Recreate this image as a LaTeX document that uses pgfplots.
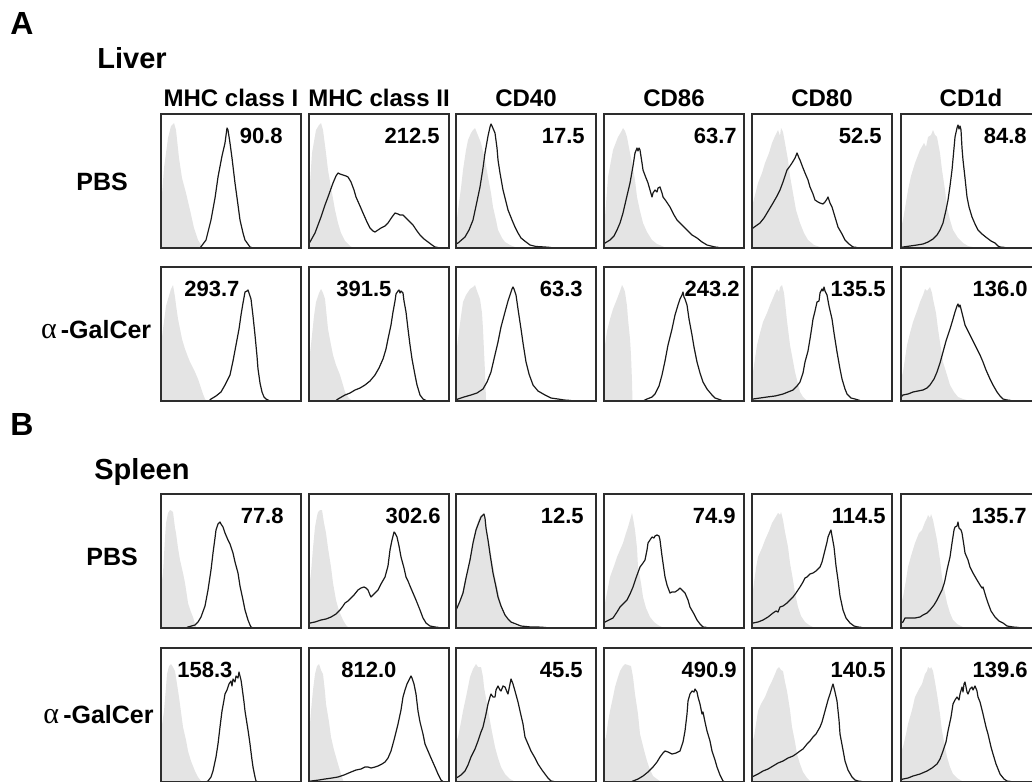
\documentclass[border=0pt]{standalone}
\usepackage{fontspec}
\setmainfont{Liberation Sans}
\newfontfamily\greekfont{Liberation Serif}
\usepackage{pgfplots}
\pgfplotsset{compat=1.18}

\definecolor{ctrlgrey}{RGB}{228,228,228}
\definecolor{boxline}{RGB}{45,45,45}

\newcommand{\numfont}{\fontsize{11}{13}\selectfont\bfseries}
\newcommand{\numR}[2]{\node[anchor=east,inner sep=0pt,font=\numfont] at (axis cs:#1,112) {#2};}
\newcommand{\numL}[2]{\node[anchor=west,inner sep=0pt,font=\numfont] at (axis cs:#1,112) {#2};}
\newcommand{\agc}{{\greekfont\mdseries\fontsize{15}{17}\selectfont α}\,-GalCer}

\pgfplotsset{
  panel/.style={
    width=70pt, height=67pt, scale only axis,
    xmin=0, xmax=140, ymin=0, ymax=134,
    xtick=\empty, ytick=\empty,
    axis on top, clip=false, anchor=north west,
    axis line style={draw=boxline, line width=0.85pt},
  },
  ctrl/.style={fill=ctrlgrey, draw=none},
  stain/.style={black!90, line width=0.6pt, mark=none, line join=round},
}

\begin{document}
\begin{tikzpicture}
\useasboundingbox (0pt,0pt) rectangle (516pt,-390.5pt);
\clip (0pt,0pt) rectangle (516pt,-390.5pt);

% labels
\node[anchor=base west,inner sep=0pt,font=\fontsize{16}{18}\selectfont\bfseries] at (5pt,-17.5pt) {A};
\node[anchor=base west,inner sep=0pt,font=\fontsize{14.5}{17}\selectfont\bfseries] at (48.5pt,-34.2pt) {Liver};
\node[anchor=base west,inner sep=0pt,font=\fontsize{16}{18}\selectfont\bfseries] at (5pt,-217.5pt) {B};
\node[anchor=base west,inner sep=0pt,font=\fontsize{14.5}{17}\selectfont\bfseries] at (47pt,-239.5pt) {Spleen};

\foreach \x/\t in {115.5/MHC class I, 189.5/MHC class II, 263/CD40, 337/CD86, 411/CD80, 485.5/CD1d}
  \node[anchor=base,inner sep=0pt,font=\fontsize{12}{14}\selectfont\bfseries] at (\x pt,-53pt) {\t};

\node[anchor=base west,inner sep=0pt,font=\fontsize{12.5}{15}\selectfont\bfseries] at (38pt,-95pt) {PBS};
\node[anchor=base east,inner sep=0pt,font=\fontsize{12.5}{15}\selectfont\bfseries] at (75.8pt,-169pt) {\agc};
\node[anchor=base west,inner sep=0pt,font=\fontsize{12.5}{15}\selectfont\bfseries] at (43pt,-282.8pt) {PBS};
\node[anchor=base east,inner sep=0pt,font=\fontsize{12.5}{15}\selectfont\bfseries] at (77pt,-361.5pt) {\agc};

% ---------- Liver, PBS ----------
\begin{axis}[panel, at={(80.5pt,-57pt)}]
\addplot[ctrl] coordinates {(0,40)(3,80)(7,110)(10,122)(13,125)(15,118)(18,90)(21,70)(25,55)(29,38)(33,20)(37,8)(42,0)} \closedcycle;
\addplot[stain] coordinates {(39,0)(45,8)(50,28)(54,50)(57,71)(61,92)(64,105)(66,120)(67,118)(69,105)(71,90)(74,65)(77,43)(79,28)(82,15)(84,8)(89,1)(92,0)};
\numR{122}{90.8}
\end{axis}

\begin{axis}[panel, at={(154.5pt,-57pt)}]
\addplot[ctrl] coordinates {(0,50)(3,95)(7,118)(10,123)(12,125)(14,118)(17,95)(19,78)(23,55)(26,38)(29,25)(32,15)(36,7)(41,2)(45,0)} \closedcycle;
\addplot[stain] coordinates {(0,5)(1,6)(6,15)(12,31)(16,43)(19,51)(24,65)(27,72)(29,75)(31,74)(34,73)(37,72)(39,71)(42,66)(45,58)(47,51)(51,42)(54,35)(58,26)(61,20)(64,17)(66,16)(69,18)(72,20)(76,22)(79,25)(83,31)(86,35)(89,34)(91,33)(94,33)(97,30)(100,27)(104,23)(108,17)(111,13)(115,9)(119,6)(123,3)(126,1)(129,0.5)};
\numR{131}{212.5}
\end{axis}

\begin{axis}[panel, at={(228pt,-57pt)}]
\addplot[ctrl] coordinates {(0,20)(2,38)(5,60)(7,78)(10,98)(12,108)(15,115)(17,118)(19,120)(21,115)(23,110)(25,105)(29,88)(32,71)(35,55)(37,41)(40,28)(42,18)(46,10)(49,6)(54,3)(59,1)(62,0)} \closedcycle;
\addplot[stain] coordinates {(0,4)(2,5)(9,11)(13,18)(17,28)(20,42)(24,61)(27,80)(29,95)(32,112)(34,121)(35,124)(36,122)(39,115)(41,100)(42,88)(44,75)(47,58)(50,46)(52,38)(56,28)(59,21)(62,15)(65,10)(70,6)(74,3)(80,1.5)(89,1)(95,0.5)};
\numR{129}{17.5}
\end{axis}

\begin{axis}[panel, at={(302pt,-57pt)}]
\addplot[ctrl] coordinates {(0,25)(1,31)(4,71)(9,98)(14,111)(17,116)(19,120)(21,117)(23,111)(26,95)(28,85)(31,68)(33,51)(36,37)(39,25)(43,16)(48,8)(53,4)(58,2)(62,0)} \closedcycle;
\addplot[stain] coordinates {(0,4)(1,5)(6,8)(10,12)(13,18)(16,25)(19,35)(22,48)(26,65)(29,82)(31,95)(33,100)(34,97)(35,100)(36,98)(38,85)(39,78)(42,70)(44,65)(46,58)(48,51)(49,55)(51,58)(53,56)(54,60)(56,61)(58,55)(59,51)(62,47)(66,41)(70,33)(73,28)(78,23)(83,18)(88,13)(93,10)(98,6)(103,3)(111,1)(115,0.5)};
\numR{133}{63.7}
\end{axis}

\begin{axis}[panel, at={(376pt,-57pt)}]
\addplot[ctrl] coordinates {(0,40)(1,45)(6,65)(10,75)(13,85)(17,95)(20,105)(23,112)(26,118)(28,112)(29,120)(31,116)(33,105)(36,88)(38,72)(41,55)(44,38)(48,25)(52,15)(56,8)(62,3)(68,1)(72,0)} \closedcycle;
\addplot[stain] coordinates {(0,19)(1,20)(8,25)(12,30)(15,35)(18,40)(21,45)(25,52)(28,58)(31,66)(35,78)(38,82)(40,85)(43,90)(45,95)(47,90)(48,88)(51,80)(53,75)(56,68)(58,61)(61,54)(63,48)(66,46)(68,45)(71,44)(73,46)(75,49)(76,51)(78,45)(80,41)(83,31)(86,21)(90,14)(93,8)(97,4)(101,1)(105,0.5)};
\numR{130}{52.5}
\end{axis}

\begin{axis}[panel, at={(450.5pt,-57pt)}]
\addplot[ctrl] coordinates {(0,20)(2,28)(7,58)(10,72)(14,85)(19,98)(23,105)(25,101)(27,111)(30,113)(32,118)(34,113)(36,111)(39,95)(41,78)(44,58)(46,41)(49,28)(52,18)(57,10)(62,5)(67,2)(72,1)(76,0)} \closedcycle;
\addplot[stain] coordinates {(0,0.5)(2,1)(9,2)(16,3)(22,4)(27,6)(32,9)(36,13)(39,18)(42,25)(45,38)(47,48)(49,62)(51,78)(53,100)(54,111)(56,120)(57,123)(58,119)(59,122)(60,118)(61,100)(62,88)(64,70)(66,51)(68,41)(71,31)(74,24)(77,18)(81,14)(86,10)(90,7)(94,5)(97,2)(99,1)(104,0.5)};
\numR{126}{84.8}
\end{axis}

% ---------- Liver, alpha-GalCer ----------
\begin{axis}[panel, at={(80.5pt,-133.5pt)}]
\addplot[ctrl] coordinates {(0,55)(2,72)(5,95)(7,102)(10,112)(12,116)(14,104)(15,96)(17,82)(19,72)(21,62)(24,52)(27,44)(29,39)(32,33)(34,29)(37,22)(39,16)(42,7)(44,2)(46,0)} \closedcycle;
\addplot[stain] coordinates {(48,0)(50,2)(55,5)(60,9)(64,16)(67,22)(69,26)(72,40)(75,56)(78,72)(80,86)(82,98)(84,109)(86,110)(87,111)(88,108)(90,102)(92,85)(94,66)(96,45)(97,32)(99,18)(101,9)(103,4)(105,2)(108,0.5)};
\numL{23}{293.7}
\end{axis}

\begin{axis}[panel, at={(154.5pt,-133.5pt)}]
\addplot[ctrl] coordinates {(0,40)(2,56)(5,85)(7,99)(10,108)(12,112)(14,108)(16,102)(18,82)(19,72)(22,56)(24,46)(27,36)(31,26)(34,16)(36,9)(39,4)(41,2)(44,0)} \closedcycle;
\addplot[stain] coordinates {(27,0.5)(29,2)(36,6)(41,8)(46,11)(51,13)(56,16)(61,20)(66,26)(70,33)(74,42)(77,52)(79,62)(82,76)(84,89)(86,100)(87,107)(89,110)(90,111)(91,108)(92,110)(94,108)(95,100)(97,89)(99,72)(101,56)(103,42)(106,26)(108,16)(111,6)(114,2)(117,0.5)};
\numL{27}{391.5}
\end{axis}

\begin{axis}[panel, at={(228pt,-133.5pt)}]
\addplot[ctrl] coordinates {(0,45)(2,62)(5,85)(7,99)(10,106)(14,112)(17,114)(19,116)(21,110)(24,102)(26,88)(27,72)(28,50)(29,29)(30,2)(30.5,0)} \closedcycle;
\addplot[stain] coordinates {(0,1)(2,2)(8,4)(15,6)(21,8)(27,12)(31,19)(35,29)(38,42)(42,59)(45,74)(49,89)(52,100)(54,106)(56,112)(57,114)(58,112)(60,106)(62,92)(65,72)(67,58)(70,39)(73,27)(77,16)(82,10)(89,6)(95,3)(102,2)(108,1)(115,0.5)};
\numR{127}{63.3}
\end{axis}

\begin{axis}[panel, at={(302pt,-133.5pt)}]
\addplot[ctrl] coordinates {(0,45)(1,56)(3,70)(6,82)(9,92)(13,102)(16,110)(18,116)(20,112)(21,109)(23,95)(24,82)(26,62)(27,46)(28,20)(28.5,0)} \closedcycle;
\addplot[stain] coordinates {(40,0.5)(43,2)(48,4)(51,7)(55,15)(58,26)(61,40)(64,56)(68,72)(71,86)(74,96)(76,102)(78,106)(79,109)(80,104)(81,102)(83,96)(85,82)(88,66)(90,54)(93,39)(96,28)(99,19)(103,12)(108,6)(111,3)(114,2)(118,0.5)};
\numR{136}{243.2}
\end{axis}

\begin{axis}[panel, at={(376pt,-133.5pt)}]
\addplot[ctrl] coordinates {(0,22)(1,29)(5,56)(8,68)(11,79)(15,88)(18,96)(21,103)(23,108)(25,112)(27,109)(28,114)(30,116)(32,108)(33,99)(35,80)(38,56)(41,40)(43,29)(46,17)(48,9)(51,4)(53,2)(56,0)} \closedcycle;
\addplot[stain] coordinates {(0,1)(1,2)(8,3)(15,4)(23,5)(31,7)(36,9)(41,11)(45,15)(48,19)(51,28)(53,39)(56,50)(58,62)(60,75)(61,82)(63,90)(65,99)(67,100)(68,108)(70,112)(71,110)(72,114)(73,110)(75,106)(77,95)(80,82)(82,68)(85,49)(88,32)(90,22)(93,12)(95,7)(99,3)(103,2)(108,0.5)};
\numR{134}{135.5}
\end{axis}

\begin{axis}[panel, at={(450.5pt,-133.5pt)}]
\addplot[ctrl] coordinates {(0,22)(2,29)(6,56)(9,68)(12,79)(16,90)(19,99)(22,106)(24,112)(26,110)(29,114)(31,108)(32,102)(35,88)(37,72)(40,52)(42,39)(46,26)(49,16)(53,9)(57,4)(62,2)(66,1)(70,0)} \closedcycle;
\addplot[stain] coordinates {(0,4)(2,6)(7,7)(12,9)(17,10)(22,11)(26,13)(29,16)(33,22)(36,29)(39,38)(42,49)(45,60)(49,72)(52,82)(54,89)(56,95)(57,97)(58,94)(59,96)(60,92)(62,84)(64,76)(66,72)(69,66)(72,60)(74,56)(76,52)(79,46)(82,39)(85,31)(89,22)(92,16)(96,9)(99,5)(102,2)(106,1)(110,0.5)};
\numR{127}{136.0}
\end{axis}

% ---------- Spleen, PBS ----------
\begin{axis}[panel, at={(80.5pt,-247pt)}]
\addplot[ctrl] coordinates {(0,40)(2,55)(4,90)(5,105)(7,115)(9,118)(11,117)(12,116)(14,100)(15,95)(17,80)(19,68)(22,55)(24,45)(26,32)(27,25)(30,16)(32,11)(34,4)(35,1)(37,0)} \closedcycle;
\addplot[stain] coordinates {(25,0)(27,1)(34,3)(37,6)(40,11)(44,22)(47,38)(50,58)(52,75)(54,90)(55,98)(57,104)(59,106)(60,104)(62,101)(64,95)(67,88)(69,84)(72,75)(74,66)(77,55)(79,42)(82,28)(84,18)(87,8)(89,3)(90,1)(92,0)};
\numR{123}{77.8}
\end{axis}

\begin{axis}[panel, at={(154.5pt,-247pt)}]
\addplot[ctrl] coordinates {(0,40)(2,55)(4,80)(6,101)(8,112)(9,116)(11,118)(13,118)(15,105)(17,95)(19,80)(22,61)(24,45)(27,28)(30,17)(34,8)(37,3)(39,1)(41,0)} \closedcycle;
\addplot[stain] coordinates {(0,4)(1,5)(6,6)(12,8)(17,9)(22,11)(27,14)(31,18)(34,22)(36,25)(39,27)(42,30)(45,33)(49,38)(52,40)(55,41)(57,40)(59,38)(61,33)(62,31)(65,34)(69,38)(72,44)(76,51)(79,62)(81,78)(83,88)(85,96)(86,95)(88,91)(90,82)(92,71)(95,60)(97,51)(99,47)(101,42)(104,35)(107,28)(111,18)(114,10)(117,5)(121,2)(126,1)(130,0.5)};
\numR{132}{302.6}
\end{axis}

\begin{axis}[panel, at={(228pt,-247pt)}]
\addplot[ctrl] coordinates {(0,15)(1,18)(4,28)(7,38)(10,52)(14,71)(17,88)(20,101)(23,110)(25,113)(27,112)(29,110)(31,96)(34,81)(36,68)(39,51)(42,38)(44,28)(47,18)(50,11)(54,6)(59,3)(65,1)(70,0)} \closedcycle;
\addplot[stain] coordinates {(0,18)(1,20)(4,27)(7,35)(10,50)(14,68)(17,85)(20,98)(23,106)(25,111)(27,113)(28,114)(29,110)(30,100)(32,88)(34,74)(37,55)(40,41)(42,31)(45,22)(49,13)(52,9)(55,6)(60,4)(65,2)(75,1)(82,1)(90,0.5)};
\numR{128}{12.5}
\end{axis}

\begin{axis}[panel, at={(302pt,-247pt)}]
\addplot[ctrl] coordinates {(0,20)(1,25)(6,51)(10,62)(13,71)(16,78)(19,85)(22,95)(24,101)(26,108)(28,115)(29,110)(31,98)(33,80)(34,61)(37,45)(39,31)(42,20)(46,11)(50,6)(54,3)(58,1)(62,0)} \closedcycle;
\addplot[stain] coordinates {(0,5)(1,6)(5,8)(9,10)(13,16)(16,21)(20,25)(23,28)(26,34)(29,41)(32,50)(36,61)(39,65)(41,68)(43,78)(44,85)(46,88)(48,91)(50,90)(51,92)(53,93)(55,92)(56,88)(58,72)(61,51)(63,43)(66,35)(68,36)(71,36)(74,38)(76,40)(78,38)(81,35)(84,28)(86,21)(90,14)(93,8)(96,4)(99,1)(103,0.5)};
\numR{132}{74.9}
\end{axis}

\begin{axis}[panel, at={(376pt,-247pt)}]
\addplot[ctrl] coordinates {(0,35)(1,38)(4,60)(6,71)(10,80)(13,88)(17,97)(20,105)(23,110)(26,115)(28,113)(29,116)(31,108)(33,96)(36,81)(38,65)(41,48)(43,35)(46,21)(49,12)(53,6)(57,3)(61,1)(65,0)} \closedcycle;
\addplot[stain] coordinates {(0,4)(1,5)(6,6)(11,8)(16,11)(21,15)(24,17)(26,16)(28,21)(31,22)(35,25)(38,28)(41,31)(44,35)(48,41)(51,46)(53,50)(55,51)(58,54)(61,55)(64,57)(68,61)(70,66)(73,78)(75,86)(76,91)(78,96)(79,98)(80,92)(82,81)(84,62)(86,48)(88,32)(91,18)(94,10)(98,5)(102,2)(106,1)(110,0.5)};
\numR{134}{114.5}
\end{axis}

\begin{axis}[panel, at={(450.5pt,-247pt)}]
\addplot[ctrl] coordinates {(0,25)(2,31)(5,48)(7,61)(10,72)(14,85)(18,95)(21,98)(24,106)(26,110)(27,113)(29,110)(30,114)(32,108)(34,98)(36,88)(39,68)(41,51)(44,35)(46,25)(49,15)(52,8)(56,4)(62,1)(66,0)} \closedcycle;
\addplot[stain] coordinates {(0,5)(2,6)(4,10)(9,10)(14,10)(19,11)(22,13)(26,15)(29,18)(33,23)(36,28)(39,34)(41,38)(43,44)(44,48)(46,58)(49,71)(51,85)(53,98)(54,101)(56,102)(57,106)(58,100)(60,98)(61,95)(63,82)(64,75)(67,68)(69,61)(72,55)(76,48)(79,43)(81,40)(82,41)(85,31)(87,25)(90,17)(94,11)(98,7)(102,5)(106,2)(112,1)(118,0.5)};
\numR{126}{135.7}
\end{axis}

% ---------- Spleen, alpha-GalCer ----------
\begin{axis}[panel, at={(80.5pt,-324pt)}]
\addplot[ctrl] coordinates {(0,50)(3,71)(5,95)(6,108)(8,116)(10,118)(12,115)(14,111)(16,98)(18,85)(20,70)(22,55)(25,42)(27,31)(30,21)(34,11)(37,5)(40,1)(42,0)} \closedcycle;
\addplot[stain] coordinates {(45,0)(47,1)(50,5)(52,11)(55,25)(57,38)(59,55)(61,71)(63,82)(64,88)(66,92)(67,95)(68,98)(70,101)(71,96)(72,103)(74,100)(75,106)(77,104)(78,110)(80,102)(81,95)(83,80)(84,71)(87,52)(89,38)(91,22)(92,15)(94,5)(95,1)(97,0)};
\numL{16}{158.3}
\end{axis}

\begin{axis}[panel, at={(154.5pt,-324pt)}]
\addplot[ctrl] coordinates {(0,45)(2,71)(4,92)(6,108)(8,116)(10,118)(12,112)(14,108)(16,90)(17,78)(20,60)(22,45)(25,32)(29,18)(32,8)(34,2)(35,0)} \closedcycle;
\addplot[stain] coordinates {(1,0.5)(2,1)(10,2)(16,3)(23,4)(29,5)(35,7)(42,10)(47,12)(52,13)(56,15)(59,15)(62,14)(66,15)(69,16)(73,18)(76,20)(79,24)(82,31)(85,42)(89,58)(92,72)(94,85)(96,92)(98,98)(100,102)(102,106)(103,104)(105,98)(107,88)(109,71)(111,60)(114,48)(116,38)(119,31)(122,24)(126,15)(129,8)(132,2)(134,0.5)};
\numL{32}{812.0}
\end{axis}

\begin{axis}[panel, at={(228pt,-324pt)}]
\addplot[ctrl] coordinates {(0,40)(2,45)(5,60)(7,71)(10,85)(14,105)(17,113)(20,118)(22,115)(25,115)(27,105)(28,95)(31,78)(34,61)(36,50)(39,35)(42,24)(45,15)(49,8)(54,3)(58,1)(62,0)} \closedcycle;
\addplot[stain] coordinates {(0,4)(2,5)(5,7)(9,11)(12,17)(15,25)(19,33)(22,41)(25,50)(27,55)(30,68)(32,78)(34,85)(35,88)(37,85)(39,85)(40,92)(42,96)(44,92)(45,91)(47,96)(49,95)(51,90)(52,88)(54,98)(55,103)(57,98)(59,91)(62,80)(64,71)(67,58)(69,45)(72,38)(75,31)(79,24)(82,18)(86,12)(89,8)(92,4)(95,1)(98,0.5)};
\numR{127}{45.5}
\end{axis}

\begin{axis}[panel, at={(302pt,-324pt)}]
\addplot[ctrl] coordinates {(0,40)(2,45)(4,60)(6,71)(9,85)(11,95)(14,105)(16,111)(19,116)(21,118)(24,117)(27,116)(29,105)(31,88)(34,68)(36,48)(40,32)(43,21)(46,12)(49,6)(53,3)(56,1)(60,0)} \closedcycle;
\addplot[stain] coordinates {(27,0)(29,1)(34,3)(39,6)(44,10)(49,15)(53,20)(56,25)(59,29)(61,31)(64,30)(68,28)(72,29)(76,31)(79,40)(81,51)(83,68)(84,81)(86,88)(88,91)(90,90)(91,93)(93,90)(94,85)(96,78)(98,68)(99,70)(101,60)(103,51)(106,41)(108,31)(111,22)(113,15)(116,7)(119,1)(121,0)};
\numR{133}{490.9}
\end{axis}

\begin{axis}[panel, at={(376pt,-324pt)}]
\addplot[ctrl] coordinates {(0,40)(2,45)(6,71)(9,78)(13,85)(17,95)(20,101)(23,108)(25,113)(27,115)(29,112)(31,111)(33,100)(35,91)(38,72)(40,55)(43,40)(45,28)(48,18)(51,10)(55,4)(58,1)(61,0)} \closedcycle;
\addplot[stain] coordinates {(0,5)(2,6)(6,8)(11,11)(16,13)(21,16)(26,19)(31,21)(36,24)(41,26)(44,28)(48,31)(51,33)(55,38)(58,41)(61,45)(64,48)(68,55)(70,60)(73,71)(76,82)(78,88)(80,95)(81,98)(83,90)(85,81)(87,62)(88,48)(91,32)(93,21)(96,12)(100,5)(103,2)(106,1)(110,0.5)};
\numR{134}{140.5}
\end{axis}

\begin{axis}[panel, at={(450.5pt,-324pt)}]
\addplot[ctrl] coordinates {(0,30)(2,35)(5,48)(7,58)(11,72)(14,85)(18,93)(21,98)(24,108)(26,111)(27,115)(29,113)(30,115)(32,111)(34,100)(36,88)(39,68)(41,51)(44,35)(46,25)(49,15)(52,8)(56,4)(61,1)(64,0)} \closedcycle;
\addplot[stain] coordinates {(0,2)(2,3)(7,4)(12,6)(19,8)(26,11)(31,14)(36,18)(39,23)(42,31)(45,40)(47,51)(50,65)(52,78)(54,82)(56,85)(58,82)(59,88)(61,95)(62,90)(63,98)(64,100)(66,90)(67,88)(69,93)(71,95)(72,92)(74,96)(76,91)(77,85)(79,80)(82,68)(85,55)(87,48)(90,35)(92,28)(95,18)(99,8)(103,3)(106,1)(110,0.5)};
\numR{127}{139.6}
\end{axis}

\end{tikzpicture}
\end{document}
